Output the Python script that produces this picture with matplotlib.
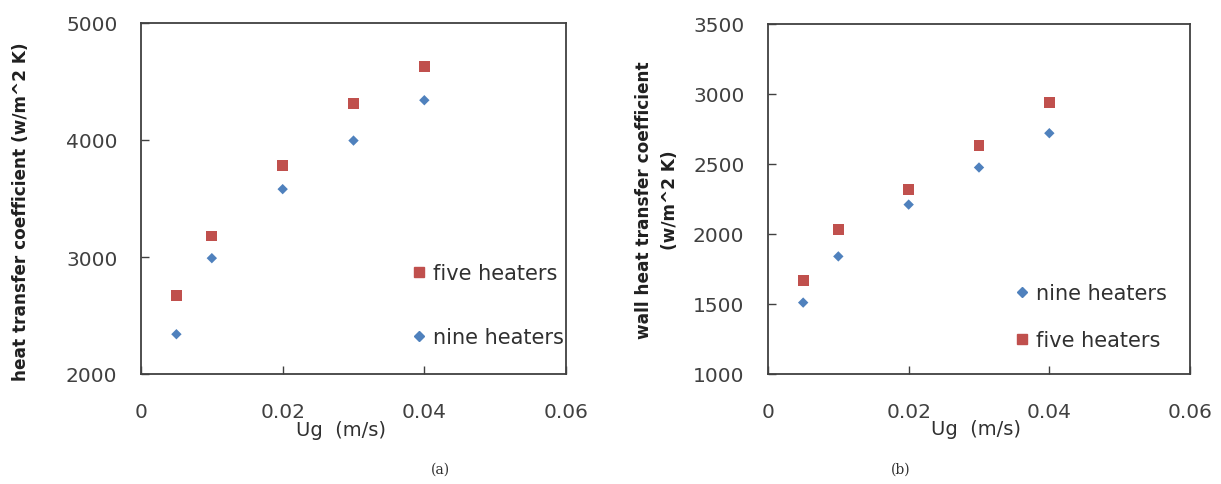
import matplotlib
matplotlib.use("Agg")
import matplotlib.pyplot as plt
from matplotlib.lines import Line2D

ug = [0.005, 0.01, 0.02, 0.03, 0.04]
a_five = [2670, 3180, 3780, 4310, 4630]
a_nine = [2340, 2990, 3580, 3995, 4340]
b_nine = [1510, 1840, 2210, 2475, 2720]
b_five = [1670, 2030, 2320, 2630, 2940]

a_yticks = [2000, 3000, 4000, 5000]
b_yticks = [1000, 1500, 2000, 2500, 3000, 3500]
xticks = [0, 0.02, 0.04, 0.06]
xticklabels = ["0", "0.02", "0.04", "0.06"]

RED = "#C0504D"
BLUE = "#4F81BD"
W, H = 1221, 485

fig = plt.figure(figsize=(W / 100, H / 100), dpi=100)

def px(l, t, r, b):
    return [l / W, 1 - b / H, (r - l) / W, (b - t) / H]

ax1 = fig.add_axes(px(141, 24, 566, 375))
ax2 = fig.add_axes(px(768, 25, 1190, 375))

def style(ax, ylim, yticks, xl_x):
    ax.set_xlim(0, 0.06)
    ax.set_ylim(*ylim)
    ax.set_xticks(xticks)
    ax.set_xticklabels(xticklabels)
    ax.set_yticks(yticks)
    ax.set_yticklabels([str(v) for v in yticks])
    ax.tick_params(direction="in", length=6, width=1.0, labelsize=14.5,
                   colors="#404040", labelcolor="#404040")
    ax.tick_params(axis="y", pad=17)
    ax.tick_params(axis="x", pad=20)
    for s in ax.spines.values():
        s.set_color("#404040")
        s.set_linewidth(1.3)
    ax.set_xlabel("Ug  (m/s)", fontsize=14, color="#303030")
    ax.xaxis.set_label_coords(xl_x, -0.157)
    ax.xaxis.label.set_va("center")

style(ax1, (2000, 5000), a_yticks, 0.47)
style(ax2, (1000, 3500), b_yticks, 0.493)

ax1.scatter(ug, a_five, marker="s", s=60, color=RED, edgecolors="none", zorder=3)
ax1.scatter(ug, a_nine, marker="D", s=28, color=BLUE, edgecolors="none", zorder=3)
ax2.scatter(ug, b_nine, marker="D", s=28, color=BLUE, edgecolors="none", zorder=3)
ax2.scatter(ug, b_five, marker="s", s=60, color=RED, edgecolors="none", zorder=3)

h_five = Line2D([], [], marker="s", linestyle="none", color=RED, markersize=7.5)
h_nine = Line2D([], [], marker="D", linestyle="none", color=BLUE, markersize=5)

fs_leg = 15
fig.legend([h_five, h_nine], ["five heaters", "nine heaters"], loc="center left",
           bbox_to_anchor=(408.6 / W, 1 - 306 / H), frameon=False, fontsize=fs_leg,
           labelspacing=2.1, handletextpad=0.15, handlelength=1.0,
           borderpad=0, borderaxespad=0, labelcolor="#303030")
fig.legend([h_nine, h_five], ["nine heaters", "five heaters"], loc="center left",
           bbox_to_anchor=(1011.6 / W, 1 - 317.5 / H), frameon=False, fontsize=fs_leg,
           labelspacing=1.3, handletextpad=0.15, handlelength=1.0,
           borderpad=0, borderaxespad=0, labelcolor="#303030")

ax1.set_ylabel("heat transfer coefficient (w/m^2 K)", fontsize=12.2, fontweight="bold",
               color="#202020")
ax1.yaxis.set_label_coords(-0.262, 0.464)
ax2.set_ylabel("wall heat transfer coefficient\n(w/m^2 K)", fontsize=12.2, fontweight="bold",
               color="#202020", linespacing=1.6)
ax2.yaxis.set_label_coords(-0.21, 0.5)

fig.text(440 / W, 1 - 470 / H, "(a)", fontsize=10, family="DejaVu Serif",
         ha="center", va="center", color="#303030")
fig.text(901 / W, 1 - 470 / H, "(b)", fontsize=10, family="DejaVu Serif",
         ha="center", va="center", color="#303030")

fig.savefig("out.png", dpi=100, facecolor="white")
